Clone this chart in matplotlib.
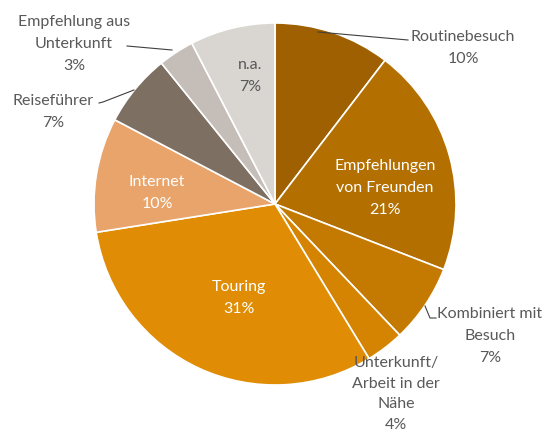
import matplotlib
matplotlib.use("Agg")
import matplotlib.pyplot as plt

categories = ["Routinebesuch", "Empfehlungen\nvon Freunden", "Kombiniert mit\nBesuch",
              "Unterkunft/\nArbeit in der\nNähe", "Touring", "Internet", "Reiseführer",
              "Empfehlung aus\nUnterkunft", "n.a."]
values = [10.4, 20.5, 7.0, 3.4, 31.2, 10.2, 6.5, 3.2, 7.6]
pct_labels = ["10%", "21%", "7%", "4%", "31%", "10%", "7%", "3%", "7%"]
colors = ["#9E6000", "#B36F00", "#C47A00", "#D48400", "#E08D05",
          "#E8A46A", "#7E6F63", "#C5BDB7", "#D9D6D2"]

plt.rcParams['font.family'] = ['Lato', 'DejaVu Sans']

W, H = 546, 435
fig = plt.figure(figsize=(W / 100, H / 100), dpi=100)
ax = fig.add_axes([0, 0, 1, 1])

cx, cy, r = 275, H - 205, 181
ax.pie(values, colors=colors, startangle=90, counterclock=False,
       center=(cx, cy), radius=r, frame=True,
       wedgeprops=dict(edgecolor='white', linewidth=1.2))
ax.set_xlim(0, W)
ax.set_ylim(0, H)
ax.set_aspect('equal')
ax.axis('off')

gray = "#595959"
fs = 11.5
# label positions (image pixel coords) and text colours
pos = [(463, 48, gray), (385, 188, 'white'), (490, 336, gray),
       (396, 394, gray), (239, 298, 'white'), (157, 193, 'white'),
       (53, 112, gray), (74, 44, gray), (250, 76, gray)]
for cat, p, (x, y, c) in zip(categories, pct_labels, pos):
    ax.text(x, H - y, cat + "\n" + p, ha='center', va='center', color=c,
            fontsize=fs, linespacing=1.62 if y > 380 else 1.7)

lc = "#404040"
leaders = [
    [(318, 33), (408, 41)],
    [(425, 307), (430, 319), (436, 319)],
    [(99, 104), (103, 103), (134, 91)],
    [(127, 47), (172, 51)],
]
for pts in leaders:
    xs = [p[0] for p in pts]
    ys = [H - p[1] for p in pts]
    ax.plot(xs, ys, color=lc, linewidth=0.8)

fig.savefig("out.png", dpi=100)
